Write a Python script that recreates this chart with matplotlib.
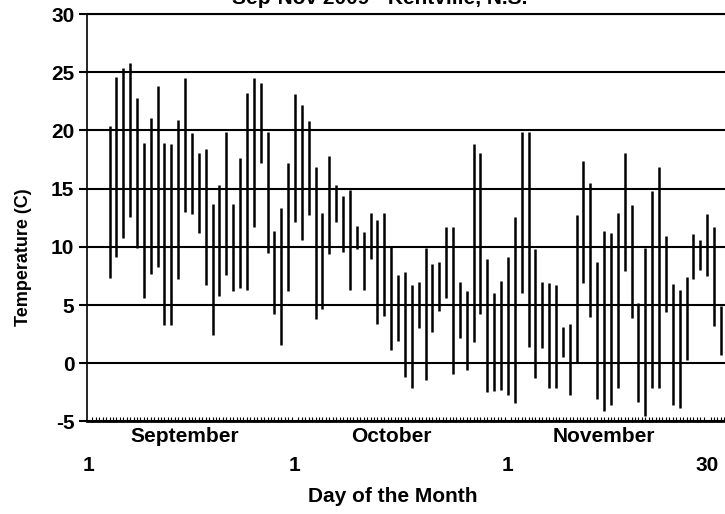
import numpy as np
import matplotlib.pyplot as plt
from matplotlib.ticker import MultipleLocator

plt.rcParams['font.family'] = ['Liberation Sans', 'DejaVu Sans']
plt.rcParams['font.weight'] = 'bold'
plt.rcParams['axes.unicode_minus'] = False

# daily max / min temperature (C), one bar per day, first bar on day 4
highs = [20.4, 24.6, 25.4, 25.8, 22.8, 18.9, 21.1, 23.8, 18.9, 18.8,
         20.9, 24.5, 19.8, 18.1, 18.4, 13.7, 15.3, 19.9, 13.7, 17.6,
         23.2, 24.5, 24.1, 19.9, 11.4, 13.3, 17.2, 23.1, 22.2, 20.8,
         16.9, 12.9, 17.8, 15.3, 14.4, 14.9, 11.8, 11.3, 12.9, 12.3,
         12.9, 10.0, 7.6, 7.8, 6.7, 7.0, 9.9, 8.5, 8.7, 11.7,
         11.7, 7.0, 6.2, 18.8, 18.1, 9.0, 6.0, 7.1, 9.1, 12.6,
         19.9, 19.9, 9.8, 7.0, 6.9, 6.7, 3.1, 3.4, 12.7, 17.4,
         15.5, 8.7, 11.4, 11.2, 12.9, 18.1, 13.6, 5.2, 9.9, 14.8,
         16.9, 10.9, 6.8, 6.3, 7.4, 11.1, 10.6, 12.8, 11.7, 4.9]
lows = [7.3, 9.1, 10.8, 12.6, 9.9, 5.6, 7.7, 8.3, 3.3, 3.3,
        7.2, 13.0, 12.8, 11.2, 6.7, 2.4, 5.8, 7.6, 6.2, 6.5,
        6.3, 11.7, 17.2, 9.5, 4.2, 1.6, 6.2, 12.1, 10.6, 12.7,
        3.8, 4.7, 9.4, 12.1, 9.6, 6.3, 9.8, 6.3, 9.0, 3.4,
        4.1, 1.1, 1.9, -1.2, -2.1, 3.0, -1.4, 2.7, 4.5, 5.6,
        -0.9, 2.2, -0.6, 1.8, 4.2, -2.5, -2.4, -2.3, -2.7, -3.4,
        6.0, 1.4, -1.3, 1.3, -2.1, -2.1, 0.5, -2.7, 0.1, 6.9,
        4.0, -3.1, -4.1, -3.6, -2.1, 7.9, 3.9, -3.3, -4.5, -2.1,
        -2.1, 4.4, -3.6, -3.8, 0.3, 7.2, 8.0, 7.5, 3.2, 0.7]
first_day = 4
days = np.arange(first_day, first_day + len(highs))

day_ticks = [1, 31, 62, 91]
day_labels = ['1', '1', '1', '30']
months = ['September', 'October', 'November']
month_pos = [15, 45, 76]

fig = plt.figure(figsize=(7.25, 5.14), dpi=100)
ax = fig.add_axes([0.12, 0.18, 0.88, 0.7926])

ax.vlines(days, lows, highs, color='black', lw=1.8, zorder=3)

ax.set_xlim(0.72, 93.6)
ax.set_ylim(-5, 30)
ax.set_yticks(range(-5, 31, 5))
ax.yaxis.grid(True, color='black', lw=1.5)
ax.tick_params(axis='y', direction='out', length=6, width=1.5, pad=3, labelsize=15)

ax.set_xticks(day_ticks)
ax.set_xticklabels(day_labels)
ax.xaxis.set_minor_locator(MultipleLocator(0.5))
ax.tick_params(axis='x', which='major', length=0, pad=25, labelsize=15)
ax.tick_params(axis='x', which='minor', direction='in', length=3, width=0.8)

for m, p in zip(months, month_pos):
    ax.text(p, -0.038, m, transform=ax.get_xaxis_transform(),
            ha='center', va='center', fontsize=15, fontweight='bold')

ax.spines['right'].set_visible(False)
ax.spines['top'].set_linewidth(1.5)
ax.spines['bottom'].set_linewidth(2)
ax.spines['left'].set_linewidth(1.2)

ax.set_xlabel('Day of the Month', fontsize=15, fontweight='bold')
ax.xaxis.label.set_va('center')
ax.xaxis.set_label_coords(0.48, -0.185)
ax.set_ylabel('Temperature (C)', fontsize=13, fontweight='bold')
ax.yaxis.label.set_va('center')
ax.yaxis.set_label_coords(-0.1, 0.404)

fig.text(380 / 725, 1 - 4 / 514, 'Sep-Nov 2009 - Kentville, N.S.',
         ha='center', va='baseline', fontsize=15, fontweight='bold')

fig.savefig('out.png', dpi=100)
